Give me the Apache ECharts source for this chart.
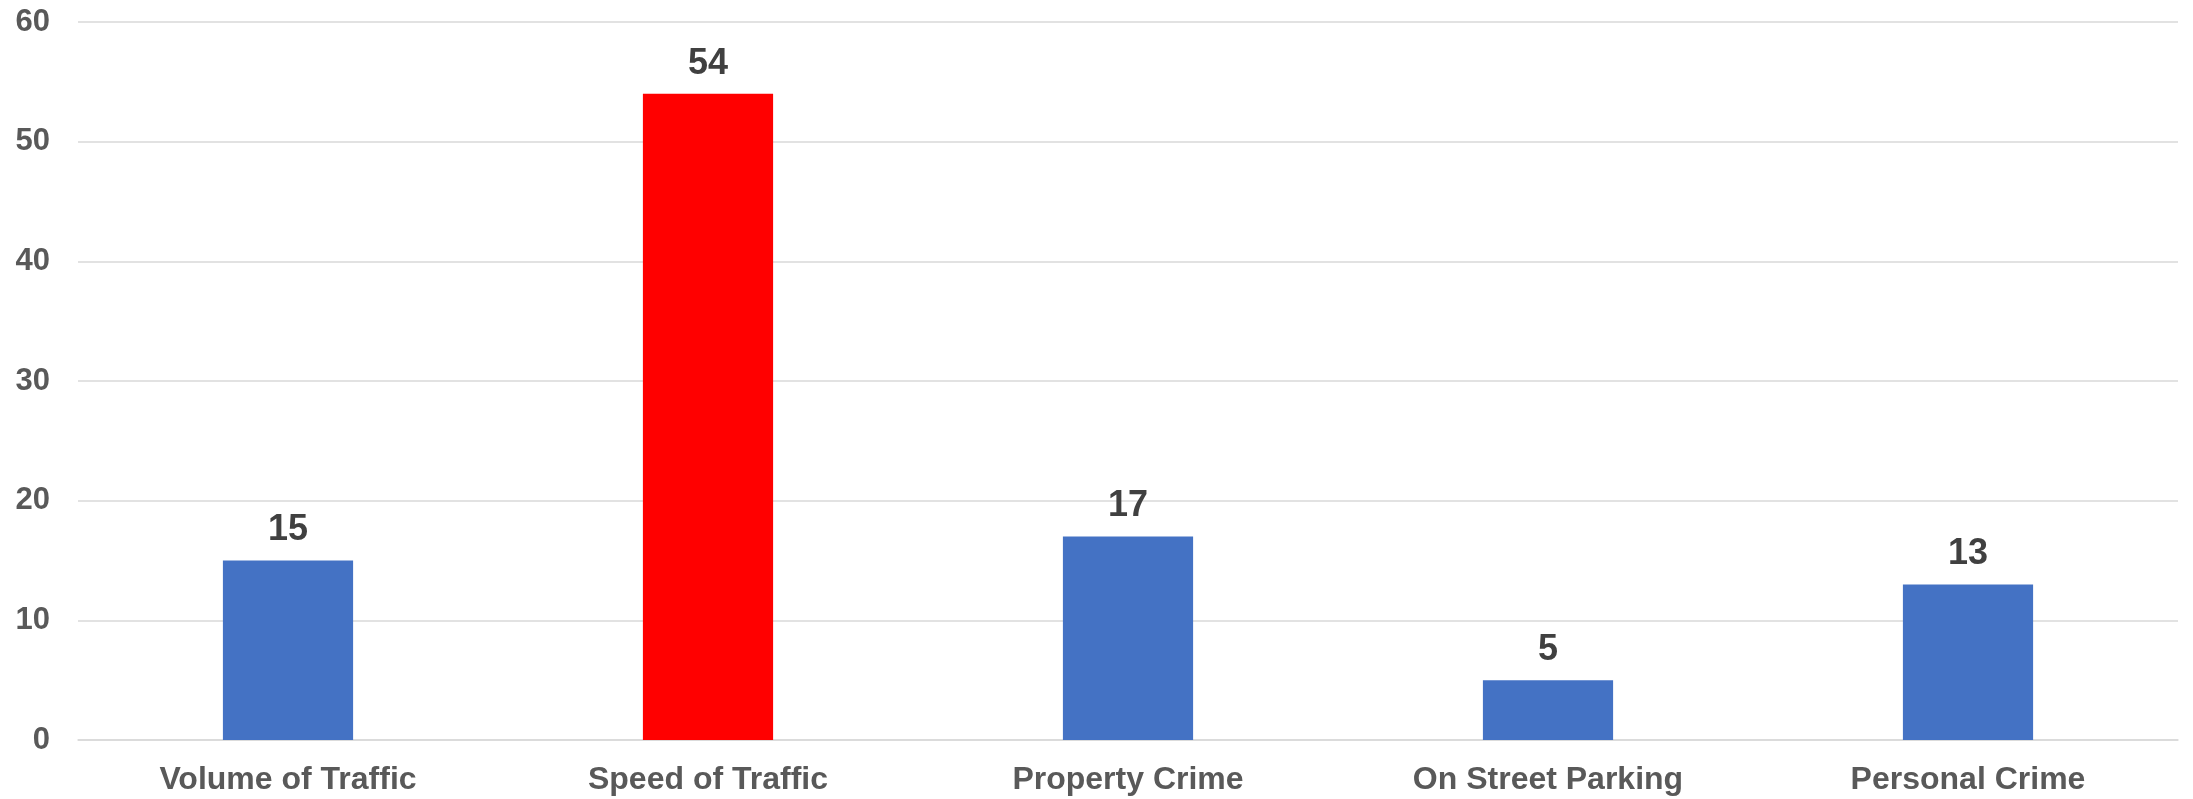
<!DOCTYPE html>
<html>
<head>
<meta charset="utf-8">
<script src="https://cdn.jsdelivr.net/npm/echarts@6/dist/echarts.min.js"></script>
<style>
html,body{margin:0;padding:0;background:#fff;}
#chart{width:2193px;height:799px;}
</style>
</head>
<body>
<div id="chart"></div>
<script>
const categories = ['Volume of Traffic', 'Speed of Traffic', 'Property Crime', 'On Street Parking', 'Personal Crime'];
const values = [15, 54, 17, 5, 13];
const barColors = ['#4472C4', '#FF0000', '#4472C4', '#4472C4', '#4472C4'];

const chart = echarts.init(document.getElementById('chart'));
const FONT = '"Liberation Sans", Arial, sans-serif';
chart.setOption({
  animation: false,
  backgroundColor: '#ffffff',
  grid: { left: 78, right: 15, top: 22, bottom: 59, containLabel: false },
  xAxis: {
    type: 'category',
    data: categories,
    axisLine: { show: true, lineStyle: { color: '#d9d9d9', width: 1.5 } },
    axisTick: { show: false },
    axisLabel: { color: '#595959', fontSize: 32, fontWeight: 'bold', fontFamily: FONT, margin: 24 }
  },
  yAxis: {
    type: 'value',
    min: 0, max: 60, interval: 10,
    axisLine: { show: false },
    axisTick: { show: false },
    splitLine: { lineStyle: { color: '#d9d9d9', width: 1.5 } },
    axisLabel: { color: '#595959', fontSize: 31, fontWeight: 'bold', fontFamily: FONT, margin: 28 }
  },
  series: [{
    type: 'bar',
    data: values.map((v, i) => ({ value: v, itemStyle: { color: barColors[i] } })),
    barWidth: '31%',
    label: {
      show: true, position: 'top', distance: 12,
      color: '#404040', fontSize: 36, fontWeight: 'bold', fontFamily: FONT
    }
  }]
});
</script>
</body>
</html>
